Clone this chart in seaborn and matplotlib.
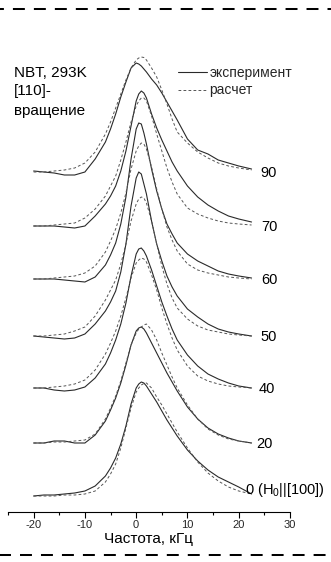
import numpy as np
import pandas as pd
import matplotlib
matplotlib.use("Agg")
import matplotlib.pyplot as plt
import seaborn as sns
from matplotlib.lines import Line2D

# ---------------- data ----------------
freq = [-20, -18, -16, -14, -12, -10, -8, -6, -5, -4, -3, -2, -1, 0, 0.5, 1,
        1.5, 2, 3, 4, 5, 6, 7, 8, 10, 12, 14, 16, 18, 20, 22.5]

angles = ["90", "70", "60", "50", "40", "20", "0"]
angle_labels = ["90", "70", "60", "50", "40", "20", "0 (H$_0$||[100])"]
offsets = [340, 286, 233, 176, 124, 69, 16]

exp_90 = [1, 0, -1, -3, -3, 0, 13, 30, 43, 58, 75, 90, 104, 109, 108, 106, 103,
          100, 93, 87, 79, 70, 61, 52, 33, 22, 18, 12, 9, 6, 3]
calc_90 = [0, 0, 1, 2, 4, 9, 20, 38, 50, 64, 78, 92, 104, 112, 114, 115, 114.5,
           112, 104, 95, 82, 68, 53, 40, 29, 20, 14, 9, 6, 4, 2]
exp_70 = [0, 0, 0, -1, -2, 0, 10, 22, 30, 40, 55, 75, 100, 125, 132, 135, 133,
          128, 112, 98, 86, 75, 64, 55, 40, 29, 21, 15, 10, 7, 4]
calc_70 = [0, 0, 1, 2, 3, 8, 17, 30, 40, 50, 66, 84, 104, 120, 125, 128, 128,
           125, 110, 92, 75, 58, 44, 32, 18, 12, 8, 5, 3, 2, 1]
exp_60 = [0, 0, 0, -1, -2, -3, 2, 14, 24, 36, 55, 82, 120, 150, 156, 155, 146,
          135, 110, 88, 70, 55, 45, 36, 25, 18, 13, 8, 5, 3, 1]
calc_60 = [0, 0, 1, 2, 3, 6, 13, 27, 38, 50, 66, 86, 110, 128, 133, 136, 135,
           130, 112, 90, 70, 52, 39, 28, 15, 9, 6, 4, 2, 1, 0]
exp_50 = [0, -1, -2, -3, -2, 2, 12, 25, 34, 45, 64, 92, 130, 158, 164, 162, 152,
          142, 115, 92, 75, 60, 49, 40, 27, 19, 12, 7, 4, 2, 0]
calc_50 = [0, 0, 1, 2, 5, 9, 20, 36, 46, 56, 72, 92, 115, 132, 137, 139, 138,
           133, 115, 92, 70, 52, 38, 28, 17, 10, 6, 4, 2, 1, 0]
exp_40 = [0, 0, -2, -3, -2, 1, 10, 24, 35, 48, 64, 85, 112, 134, 139, 140, 137,
          132, 118, 102, 86, 72, 59, 48, 33, 22, 14, 9, 5, 2, 0]
calc_40 = [0, 0, 1, 2, 4, 8, 18, 34, 45, 57, 72, 90, 110, 125, 128, 130, 129,
           126, 113, 98, 80, 64, 50, 38, 22, 12, 7, 4, 2, 1, 0]
exp_20 = [0, 0, 2, 2, 0, 0, 8, 22, 33, 45, 60, 78, 98, 112, 115, 116, 114,
          110, 100, 90, 80, 70, 61, 52, 36, 24, 15, 9, 5, 2, 0]
calc_20 = [0, 0, 1, 1, 2, 3, 9, 24, 35, 47, 62, 80, 98, 110, 114, 116, 118,
           119, 113, 103, 90, 78, 66, 55, 38, 24, 14, 8, 4, 2, 0]
exp_0 = [0, 1, 1, 2, 3, 5, 10, 20, 28, 38, 52, 70, 92, 108, 112, 114, 113,
         110, 102, 94, 85, 76, 68, 60, 46, 35, 26, 19, 14, 9, 2]
calc_0 = [0, 0, 0, 1, 1, 2, 5, 14, 22, 32, 48, 68, 88, 104, 108, 111, 112.5,
          113, 108, 99, 91, 82, 73, 64, 48, 34, 23, 15, 9, 5, 2]

exp_series = [exp_90, exp_70, exp_60, exp_50, exp_40, exp_20, exp_0]
calc_series = [calc_90, calc_70, calc_60, calc_50, calc_40, calc_20, calc_0]

legend_labels = ["эксперимент", "расчет"]
x_ticks = [-20, -10, 0, 10, 20, 30]
x_minor = [-25, -15, -5, 5, 15, 25]
x_label = "Частота, кГц"
title_lines = ["NBT, 293K", "[110]-", "вращение"]

# ---------------- figure ----------------
sns.set_theme(style="white")
plt.rcParams["font.family"] = ["Liberation Sans", "DejaVu Sans"]
plt.rcParams["mathtext.default"] = "regular"
plt.rcParams["lines.scale_dashes"] = False

W, H = 331, 562
fig = plt.figure(figsize=(W / 100, H / 100), dpi=100)
ax = fig.add_axes([8 / W, 50 / H, (290 - 8) / W, 492 / H])

rows = []
for ang, off, e, c in zip(angles, offsets, exp_series, calc_series):
    for f, v in zip(freq, e):
        rows.append((ang, "exp", f, off + v))
    for f, v in zip(freq, c):
        rows.append((ang, "calc", f, off + v))
df = pd.DataFrame(rows, columns=["angle", "kind", "freq", "y"])

EXP_C, CALC_C = "#2a2a2a", "#555555"
CALC_LS = (0, (2.0, 1.6))
for ang in angles:
    d = df[(df.angle == ang) & (df.kind == "exp")]
    sns.lineplot(data=d, x="freq", y="y", ax=ax, color=EXP_C, lw=0.8,
                 estimator=None, sort=False)
    d = df[(df.angle == ang) & (df.kind == "calc")]
    sns.lineplot(data=d, x="freq", y="y", ax=ax, color=CALC_C, lw=0.7,
                 estimator=None, sort=False, linestyle=CALC_LS)

ax.set_xlim(-25, 30)
ax.set_ylim(0, 492)
for s in ["left", "right", "top"]:
    ax.spines[s].set_visible(False)
ax.spines["bottom"].set_color("black")
ax.spines["bottom"].set_linewidth(0.8)
ax.set_yticks([])
ax.set_xticks(x_ticks)
ax.set_xticks(x_minor, minor=True)
ax.tick_params(axis="x", which="major", direction="out", length=4.5, width=0.8,
               color="black", labelsize=8, pad=1.5, bottom=True)
ax.tick_params(axis="x", which="minor", direction="out", length=2.5, width=0.8,
               color="black", bottom=True)
ax.set_xticklabels([str(t) for t in x_ticks])
ax.set_xlabel(x_label, fontsize=11, labelpad=1, color="black")
ax.set_ylabel("")

# angle labels at right of each curve
label_x = [24.3, 24.3, 24.3, 24.3, 23.9, 23.5, 21.2]
for lab, off, lx in zip(angle_labels, offsets, label_x):
    ax.text(lx, off + (-1 if lab != angle_labels[-1] else 6), lab,
            fontsize=10.5, ha="left", va="center", color="black")

# legend
handles = [Line2D([], [], color=EXP_C, lw=0.8),
           Line2D([], [], color=CALC_C, lw=0.7, linestyle=CALC_LS)]
fig.legend(handles, legend_labels, loc="upper left",
           bbox_to_anchor=(178 / W, 1 - 66 / H), frameon=False, fontsize=10,
           handlelength=2.1, handletextpad=0.15, labelspacing=0.25,
           borderpad=0, borderaxespad=0)

# sample description
for txt, yb in zip(title_lines, [77, 95, 115]):
    fig.text(14 / W, 1 - yb / H, txt, fontsize=11, ha="left", va="baseline",
             color="black")

# dashed separator lines at top and bottom
for yy, phase in [(9, 5.8), (555, 0.7)]:
    fig.add_artist(Line2D([0, 1], [1 - yy / H, 1 - yy / H],
                          transform=fig.transFigure, color="black", lw=1.45,
                          linestyle=(phase, (8.6, 6.5))))

fig.savefig("out.png", dpi=100)
